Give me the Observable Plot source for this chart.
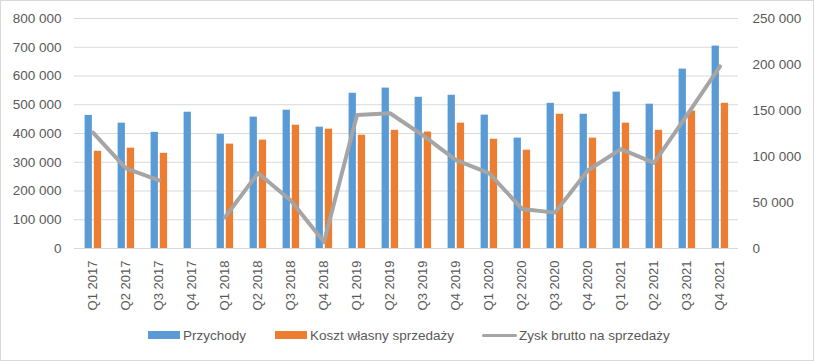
<!DOCTYPE html>
<html>
<head>
<meta charset="utf-8">
<script src="https://cdn.jsdelivr.net/npm/d3@7"></script>
<script src="https://cdn.jsdelivr.net/npm/@observablehq/plot@0.6"></script>
<style>
  html, body { margin: 0; padding: 0; background: #fff; }
  #wrap { position: relative; width: 814px; height: 361px; overflow: hidden; background: #fff; font-family: "Liberation Sans", Arial, sans-serif; }
  #chart { position: absolute; left: 0; top: 0; }
  #frame { position: absolute; left: 0; top: 0; width: 814px; height: 361px; box-sizing: border-box; border: 1px solid #d9d9d9; pointer-events: none; }
  .leg { position: absolute; top: 325px; height: 20px; display: flex; align-items: center; font-size: 13.5px; color: #595959; white-space: nowrap; }
  .sw { display: inline-block; width: 32px; height: 8px; margin-right: 3px; }
  .ln { display: inline-block; width: 35px; height: 3px; margin-right: 2px; border-radius: 2px; }
</style>
</head>
<body>
<div id="wrap">
  <div id="chart"></div>
  <div id="legend"></div>
  <div id="frame"></div>
</div>
<script>
const quarters = ["Q1 2017","Q2 2017","Q3 2017","Q4 2017","Q1 2018","Q2 2018","Q3 2018","Q4 2018","Q1 2019","Q2 2019","Q3 2019","Q4 2019","Q1 2020","Q2 2020","Q3 2020","Q4 2020","Q1 2021","Q2 2021","Q3 2021","Q4 2021"];
const przychody = [463000, 436000, 404000, 474000, 397000, 457000, 481000, 422000, 540000, 558000, 526000, 533000, 464000, 384000, 505000, 467000, 544000, 502000, 624000, 704000];
const koszt = [338000, 349000, 331000, null, 363000, 377000, 429000, 415000, 394000, 411000, 405000, 436000, 380000, 342000, 467000, 384000, 436000, 411000, 478000, 505000];
const zysk = [126000, 87000, 74000, null, 34000, 82000, 52000, 7000, 145000, 147000, 123000, 96000, 82000, 43000, 39000, 85000, 108000, 93000, 145000, 198000];
const leftTicks = [0, 100000, 200000, 300000, 400000, 500000, 600000, 700000, 800000];
const rightTicks = [0, 50000, 100000, 150000, 200000, 250000];
const seriesNames = ["Przychody", "Koszt własny sprzedaży", "Zysk brutto na sprzedaży"];
const colors = ["#5b9bd5", "#ed7d31", "#a5a5a5"];

const k = 800000 / 250000;
const fmt = d => d3.format(",")(d).replace(/,/g, " ");
const rows = quarters.map((q, i) => ({q, p: przychody[i], c: koszt[i], z: zysk[i]}));

const plot = Plot.plot({
  width: 814,
  height: 318,
  marginLeft: 74,
  marginRight: 76,
  marginTop: 18,
  marginBottom: 70,
  style: {background: "transparent", color: "#595959", fontSize: "13.5px", fontFamily: "'Liberation Sans', Arial, sans-serif"},
  x: {domain: quarters, padding: 0, label: null},
  y: {domain: [0, 800000], label: null},
  marks: [
    Plot.gridY(leftTicks, {stroke: "#d9d9d9", strokeOpacity: 1}),
    Plot.axisY(leftTicks, {anchor: "left", tickSize: 0, tickPadding: 13, tickFormat: fmt, label: null}),
    Plot.axisY(rightTicks.map(v => v * k), {anchor: "right", tickSize: 0, tickPadding: 14, tickFormat: d => fmt(Math.round(d / k)), label: null}),
    Plot.axisX({tickRotate: -90, tickSize: 0, tickPadding: 12, label: null, fontSize: 13}),
    Plot.barY(rows, {x: "q", y: "p", fill: colors[0], insetLeft: 8.6, insetRight: 17.1}),
    Plot.barY(rows.filter(d => d.c != null), {x: "q", y: "c", fill: colors[1], insetLeft: 17.8, insetRight: 7.9}),
    Plot.line(rows, {x: "q", y: d => d.z == null ? NaN : d.z * k, stroke: colors[2], strokeWidth: 4, strokeLinejoin: "round", strokeLinecap: "round"})
  ]
});
document.getElementById("chart").appendChild(plot);

const legend = document.getElementById("legend");
const legPos = [148, 275, 482];
seriesNames.forEach((name, i) => {
  const item = document.createElement("div");
  item.className = "leg";
  item.style.left = legPos[i] + "px";
  const sw = document.createElement("span");
  sw.className = i === 2 ? "ln" : "sw";
  sw.style.background = colors[i];
  const t = document.createElement("span");
  t.textContent = name;
  item.appendChild(sw);
  item.appendChild(t);
  legend.appendChild(item);
});
</script>
</body>
</html>
